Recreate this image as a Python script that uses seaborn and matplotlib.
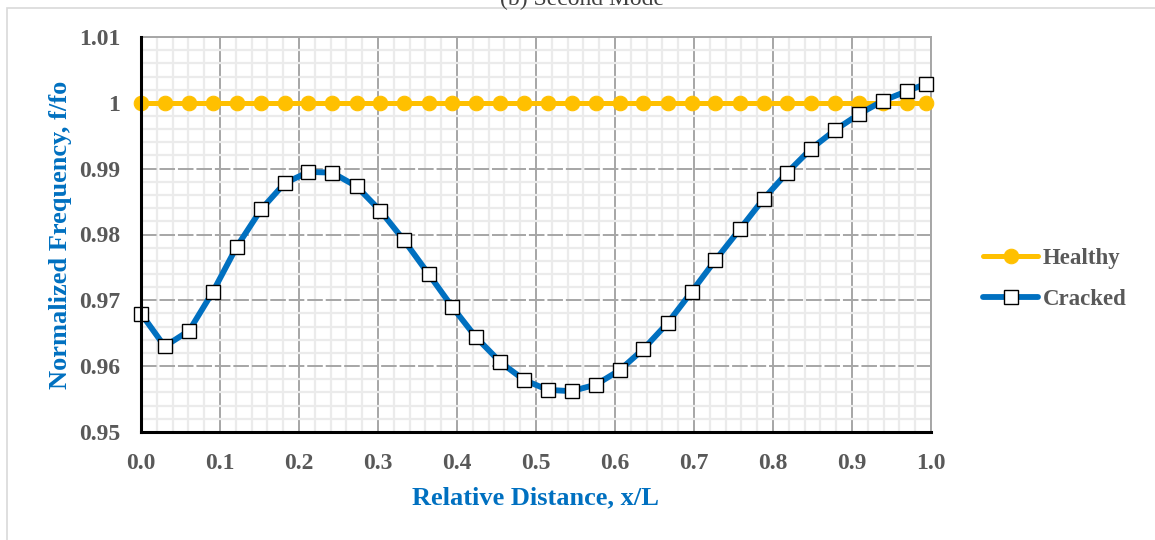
import numpy as np
import pandas as pd
import matplotlib
matplotlib.use("Agg")
import matplotlib.pyplot as plt
from matplotlib.patches import Rectangle
from matplotlib.ticker import MultipleLocator, FixedLocator
import seaborn as sns

# ---- data ----
x_rel = [0.000, 0.030, 0.061, 0.091, 0.121, 0.152, 0.182, 0.212, 0.242, 0.273,
         0.303, 0.333, 0.364, 0.394, 0.424, 0.455, 0.485, 0.515, 0.545, 0.576,
         0.606, 0.636, 0.667, 0.697, 0.727, 0.758, 0.788, 0.818, 0.848, 0.879,
         0.909, 0.939, 0.970, 0.994]
healthy = [1.0] * 34
cracked = [0.9680, 0.9630, 0.9654, 0.9713, 0.9781, 0.9838, 0.9878, 0.9895, 0.9894, 0.9873,
           0.9836, 0.9791, 0.9740, 0.9690, 0.9644, 0.9606, 0.9579, 0.9564, 0.9562, 0.9572,
           0.9594, 0.9626, 0.9666, 0.9713, 0.9761, 0.9808, 0.9854, 0.9894, 0.9930, 0.9959,
           0.9983, 1.0003, 1.0018, 1.0029]
x_ticks = [0.0, 0.1, 0.2, 0.3, 0.4, 0.5, 0.6, 0.7, 0.8, 0.9, 1.0]
x_ticklabels = ["0.0", "0.1", "0.2", "0.3", "0.4", "0.5", "0.6", "0.7", "0.8", "0.9", "1.0"]
y_ticks = [0.95, 0.96, 0.97, 0.98, 0.99, 1.00, 1.01]
y_ticklabels = ["0.95", "0.96", "0.97", "0.98", "0.99", "1", "1.01"]
series_names = ["Healthy", "Cracked"]
title = "(b) Second Mode"
xlabel = "Relative Distance, x/L"
ylabel = "Normalized Frequency, f/fo"

sns.set_theme(style="white")
plt.rcParams["font.family"] = ["Liberation Serif", "DejaVu Serif"]

W, H = 1155, 540
fig = plt.figure(figsize=(W / 100, H / 100), dpi=100)
ax = fig.add_axes([141 / W, 1 - 432 / H, (931 - 141) / W, (432 - 37) / H])

YELLOW = "#FFC000"
BLUE = "#0070C0"
GRAY_TXT = "#595959"

sns.lineplot(x=x_rel, y=healthy, ax=ax, color=YELLOW, linewidth=3.6, marker="o",
             markersize=10.5, markeredgecolor=YELLOW, markerfacecolor=YELLOW,
             label=series_names[0], sort=False, zorder=3, clip_on=False)
sns.lineplot(x=x_rel, y=cracked, ax=ax, color=BLUE, linewidth=4.2, marker="s",
             markersize=9.5, markeredgecolor="black", markeredgewidth=1.0,
             markerfacecolor="white", label=series_names[1], sort=False, zorder=4,
             clip_on=False)

ax.set_xlim(0, 1.0)
ax.set_ylim(0.95, 1.01)
ax.xaxis.set_major_locator(FixedLocator(x_ticks))
ax.yaxis.set_major_locator(FixedLocator(y_ticks))
ax.set_xticklabels(x_ticklabels)
ax.set_yticklabels(y_ticklabels)
ax.xaxis.set_minor_locator(MultipleLocator(0.02))
ax.yaxis.set_minor_locator(MultipleLocator(0.002))

ax.grid(which="minor", axis="both", color="#EBEBEB", linewidth=1.6, zorder=0)
ax.grid(which="major", axis="x", color="#A6A6A6", linewidth=1.4, zorder=1)
ax.grid(which="major", axis="y", color="#A6A6A6", linewidth=1.4, linestyle=(0, (8, 1.5)), zorder=1)
ax.set_axisbelow(True)

for s in ["top", "right"]:
    ax.spines[s].set_color("#A6A6A6")
    ax.spines[s].set_linewidth(1.4)
for s in ["left", "bottom"]:
    ax.spines[s].set_color("black")
    ax.spines[s].set_linewidth(2.2)
    ax.spines[s].set_zorder(5)

ax.tick_params(axis="both", which="both", length=0, labelsize=17, labelcolor=GRAY_TXT)
ax.tick_params(axis="x", pad=15)
ax.tick_params(axis="y", pad=15)
for lab in ax.get_xticklabels() + ax.get_yticklabels():
    lab.set_fontweight("bold")

ax.set_xlabel(xlabel, fontsize=19, fontweight="bold", color=BLUE, labelpad=9)
ax.set_ylabel(ylabel, fontsize=19, fontweight="bold", color=BLUE, labelpad=5)

handles, labels = ax.get_legend_handles_labels()
if ax.legend_:
    ax.legend_.remove()
leg = fig.legend(handles, labels, loc="center left",
                 bbox_to_anchor=(972 / W, 1 - 279 / H), frameon=False,
                 prop={"family": "Liberation Serif", "weight": "bold", "size": 16.5},
                 handlelength=2.4, handletextpad=0.2, labelspacing=0.9, borderpad=0)
for t in leg.get_texts():
    t.set_color(GRAY_TXT)

fig.text(582 / W, 1 - 5 / H, title, ha="center", va="baseline", fontsize=17,
         color="#404040", family=["Liberation Serif", "DejaVu Serif"])

fig.patches.append(Rectangle((7 / W, -0.1), 1.2, 1 - 8 / H + 0.1, transform=fig.transFigure,
                             fill=False, edgecolor="#D9D9D9", linewidth=1.2, zorder=0))

fig.savefig("out.png", dpi=100, facecolor="white")
